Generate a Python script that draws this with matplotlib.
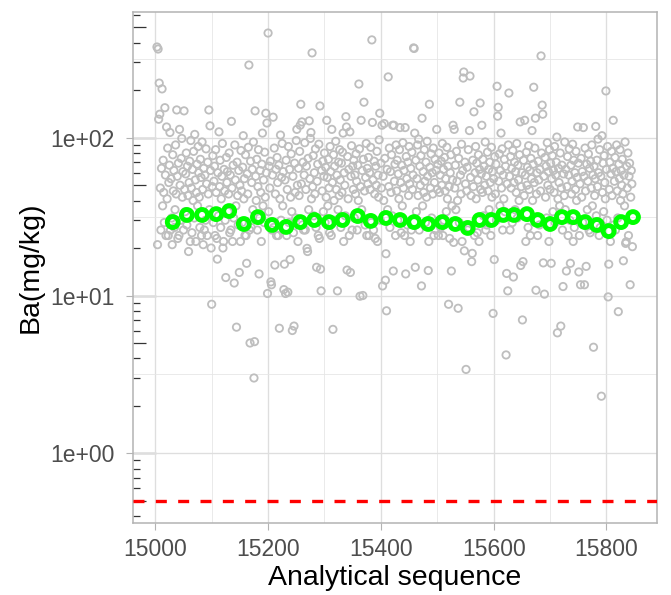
import numpy as np
import matplotlib
matplotlib.use('Agg')
import matplotlib.pyplot as plt
from matplotlib.ticker import FixedLocator, MultipleLocator, FuncFormatter, NullFormatter

plt.rcParams['font.family'] = ['Liberation Sans', 'DejaVu Sans']

# Ba values (mg/kg), one per analytical sequence number
first_seq = 15003
ba_values = [
    376, 21, 365, 131, 222, 141, 48, 26, 64, 204, 37, 72, 45, 29, 155, 58, 24, 117, 41, 86, 24, 52, 67, 108, 26,
    55, 31, 21, 78, 46, 62, 27, 35, 90, 44, 150, 57, 23, 69, 24, 113, 50, 30, 74, 99, 42, 61, 26, 148, 47,
    34, 59, 80, 28, 66, 43, 19, 52, 71, 22, 96, 48, 25, 63, 40, 82, 31, 105, 54, 22, 45, 68, 37, 88, 60,
    42, 27, 73, 56, 24, 94, 47, 21, 64, 26, 58, 30, 85, 51, 24, 70, 44, 150, 35, 119, 62, 20, 8.8, 49, 77,
    29, 53, 66, 24, 84, 45, 23, 17, 60, 32, 109, 49, 72, 27, 41, 57, 92, 20, 22, 63, 46, 30, 13, 75, 52,
    61, 34, 44, 80, 25, 58, 26, 127, 48, 22, 67, 31, 12, 90, 54, 37, 6.3, 70, 43, 28, 62, 14, 50, 22, 83,
    46, 29, 65, 103, 41, 55, 24, 78, 24, 16, 59, 44, 87, 289, 26, 5.0, 71, 27, 52, 63, 35, 94, 3.0, 5.1, 148,
    57, 40, 73, 26, 49, 84, 13.7, 31, 62, 45, 22, 68, 107, 37, 54, 29, 81, 42, 143, 60, 124, 10.3, 461, 34, 66,
    48, 71, 12.2, 11.7, 26, 58, 135, 27, 86, 15.6, 44, 63, 24, 75, 52, 24, 67, 6.2, 41, 104, 30, 56, 92, 37, 61,
    10.9, 15.8, 54, 10.3, 72, 24, 47, 10.5, 88, 29, 63, 16.9, 42, 79, 34, 6.0, 57, 25, 6.4, 69, 45, 31, 96, 113, 50,
    22, 64, 43, 82, 120, 163, 51, 126, 28, 70, 26, 58, 93, 26, 47, 66, 19.9, 19.0, 74, 35, 128, 55, 99, 108, 41,
    345, 49, 77, 32, 60, 44, 85, 27, 15.1, 53, 68, 24, 91, 23, 159, 14.7, 10.7, 62, 46, 71, 34, 57, 80, 29, 65,
    42, 129, 56, 37, 73, 48, 25, 88, 61, 24, 113, 52, 6.1, 78, 40, 66, 30, 95, 47, 58, 10.7, 35, 70, 43, 84,
    54, 27, 69, 45, 81, 107, 22, 60, 50, 32, 136, 117, 14.5, 76, 41, 63, 24, 109, 14.0, 57, 89, 26, 66, 47, 72,
    31, 58, 44, 79, 53, 26, 67, 40, 219, 85, 9.9, 49, 129, 35, 62, 10.0, 73, 168, 46, 28, 56, 92, 24, 64, 51,
    75, 24, 60, 47, 87, 29, 417, 125, 54, 26, 71, 44, 23, 66, 50, 82, 22, 58, 42, 97, 143, 30, 69, 48, 120,
    11.5, 57, 40, 123, 74, 12.5, 18.4, 8.0, 63, 35, 243, 49, 86, 27, 61, 45, 78, 32, 120, 14.3, 120, 53, 68, 24, 90,
    46, 72, 30, 59, 41, 84, 116, 52, 25, 67, 37, 93, 48, 62, 24, 116, 13.7, 76, 55, 28, 70, 43, 88, 51, 22,
    64, 26, 81, 47, 58, 371, 368, 107, 15.1, 72, 34, 55, 90, 43, 98, 26, 66, 50, 77, 11.5, 133, 37, 61, 45, 84,
    53, 29, 70, 42, 95, 57, 14.4, 22, 163, 65, 48, 79, 31, 60, 44, 86, 24, 52, 73, 26, 62, 113, 47, 68, 24,
    80, 45, 58, 27, 71, 50, 92, 24, 63, 30, 75, 46, 55, 34, 87, 41, 66, 8.8, 49, 23, 60, 78, 14.3, 37, 54,
    120, 21.7, 113, 48, 67, 35, 82, 53, 40, 8.3, 74, 29, 168, 58, 44, 91, 22, 62, 239, 261, 19.2, 70, 51, 3.4, 46,
    65, 26, 84, 27, 111, 246, 56, 43, 16.4, 18.5, 72, 49, 146, 24, 60, 88, 41, 69, 25, 54, 78, 22, 63, 166, 47,
    59, 120, 45, 73, 32, 66, 50, 94, 26, 57, 28, 81, 46, 63, 35, 70, 52, 24, 87, 42, 61, 7.7, 55, 16.9, 76,
    44, 68, 30, 212, 137, 156, 53, 79, 37, 62, 107, 48, 85, 26, 58, 41, 73, 34, 66, 4.2, 13.8, 51, 10.7, 90, 192,
    57, 26, 76, 48, 64, 29, 83, 13.1, 52, 70, 35, 61, 45, 92, 31, 67, 54, 40, 78, 126, 15.5, 49, 60, 7.0, 16.4,
    72, 43, 129, 58, 22, 81, 50, 65, 27, 89, 47, 62, 24, 74, 55, 111, 40, 68, 209, 52, 86, 133, 10.8, 44, 60,
    24, 71, 54, 28, 63, 46, 330, 80, 161, 141, 16.1, 57, 10.2, 75, 42, 66, 31, 93, 50, 61, 22, 84, 47, 69, 16.0,
    55, 77, 34, 62, 45, 88, 29, 58, 70, 101, 5.8, 41, 64, 52, 37, 80, 6.4, 48, 67, 26, 11.4, 59, 43, 94, 35,
    63, 14.3, 49, 76, 24, 58, 85, 30, 16.0, 67, 44, 53, 91, 22, 72, 27, 60, 47, 82, 40, 56, 117, 69, 14.1, 24,
    51, 11.7, 74, 42, 61, 29, 116, 57, 11.7, 86, 46, 15.3, 68, 35, 53, 79, 26, 64, 25, 71, 48, 90, 37, 58, 4.7,
    66, 43, 55, 118, 32, 72, 49, 98, 60, 24, 84, 27, 57, 2.3, 103, 45, 69, 34, 77, 52, 41, 198, 63, 30, 88,
    9.8, 15.8, 47, 70, 22, 59, 82, 43, 64, 129, 28, 53, 75, 26, 61, 90, 46, 31, 7.9, 68, 55, 84, 40, 62, 50,
    73, 44, 16.6, 58, 37, 94, 21.4, 21.9, 66, 48, 80, 24, 57, 69, 11.7, 42, 62, 51, 20.4,
]

# green trend points
trend_seq = [15031, 15056, 15083, 15108, 15131, 15157, 15182, 15207, 15232, 15257, 15282, 15308,
             15332, 15359, 15382, 15409, 15434, 15459, 15484, 15509, 15532, 15554, 15575, 15596,
             15617, 15636, 15659, 15678, 15700, 15721, 15741, 15762, 15783, 15804, 15826, 15847]
trend_values = [29.2, 32.4, 32.4, 32.8, 34.3, 28.4, 31.4, 28.0, 27.2, 29.2, 30.1, 29.2,
                30.1, 31.9, 29.7, 31.0, 30.1, 29.2, 28.4, 29.2, 28.4, 26.8, 30.1, 30.1,
                32.4, 32.4, 32.8, 30.1, 28.4, 31.4, 31.4, 29.2, 28.0, 25.6, 29.2, 31.4]

detection_limit = 0.5

seq = np.arange(first_seq, first_seq + len(ba_values))

fig = plt.figure(figsize=(6.71, 5.95), dpi=100)
ax = fig.add_axes([133 / 671, 1 - 523 / 595, (657 - 133) / 671, (523 - 12) / 595])

ax.scatter(seq, ba_values, s=28, facecolors='none', edgecolors='#bebebe', linewidths=1.3, zorder=2)
ax.scatter(trend_seq, trend_values, s=62, facecolors='none', edgecolors='#00ff00', linewidths=3.5, zorder=3)
ax.axhline(detection_limit, color='#ff0000', lw=2.4, dashes=(3.3, 3.4), zorder=3)

ax.set_yscale('log')
ax.set_ylim(10 ** -0.442, 10 ** 2.797)
ax.set_xlim(14960.5, 15889.6)

ax.xaxis.set_major_locator(MultipleLocator(200))
ax.xaxis.set_minor_locator(MultipleLocator(100))
ax.yaxis.set_major_locator(FixedLocator([1, 10, 100]))
ax.yaxis.set_minor_locator(FixedLocator([10 ** -0.5, 10 ** 0.5, 10 ** 1.5, 10 ** 2.5]))
ax.yaxis.set_major_formatter(FuncFormatter(lambda v, p: f"{v:.0e}"))
ax.yaxis.set_minor_formatter(NullFormatter())

ax.grid(which='major', color='#dedede', lw=0.95, zorder=0)
ax.grid(which='minor', color='#e6e6e6', lw=0.6, zorder=0)
ax.set_axisbelow(True)

ax.tick_params(which='major', direction='out', length=5, width=0.8, color='#b3b3b3',
               labelsize=16.5, labelcolor='#4d4d4d')
ax.tick_params(axis='y', which='major', pad=8)
ax.tick_params(axis='x', which='major', pad=5.5)
ax.tick_params(which='minor', length=0)
for s in ax.spines.values():
    s.set_color('#b3b3b3')
    s.set_linewidth(1.1)

# log ticks drawn inside the left edge
long_ticks = ax.secondary_yaxis('left')
long_ticks.yaxis.set_major_locator(FixedLocator([1, 10, 100]))
long_ticks.yaxis.set_minor_locator(FixedLocator([]))
long_ticks.tick_params(which='major', direction='in', length=16.5, width=0.9, color='#333333',
                       labelleft=False)
long_ticks.spines['left'].set_visible(False)

mid_ticks = ax.secondary_yaxis('left')
mid_ticks.yaxis.set_major_locator(FixedLocator([0.5, 5, 50, 500]))
mid_ticks.yaxis.set_minor_locator(FixedLocator([m * 10.0 ** k for k in range(-1, 3)
                                                for m in [2, 3, 4, 6, 7, 8, 9]]))
mid_ticks.tick_params(which='major', direction='in', length=9.5, width=0.9, color='#333333',
                      labelleft=False)
mid_ticks.tick_params(which='minor', direction='in', length=5, width=0.9, color='#333333',
                      labelleft=False)
mid_ticks.yaxis.set_minor_formatter(NullFormatter())
mid_ticks.spines['left'].set_visible(False)

ax.set_xlabel('Analytical sequence', fontsize=20.5, color='black', labelpad=3)
ax.set_ylabel('Ba(mg/kg)', fontsize=20.5, color='black', labelpad=5)

fig.savefig('out.png', dpi=100)
